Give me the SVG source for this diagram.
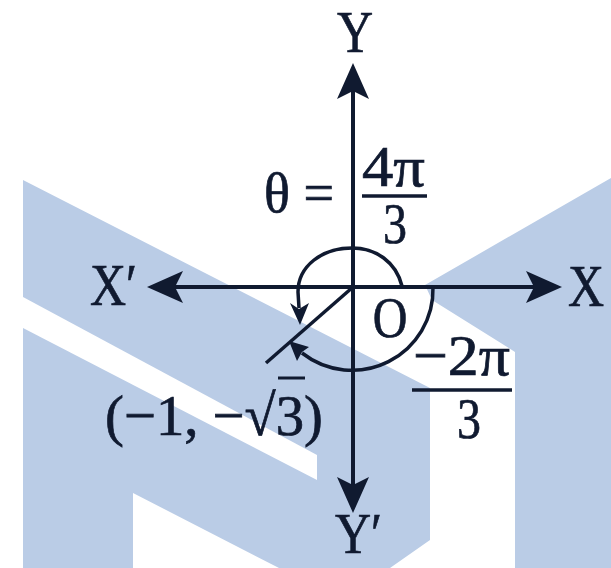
<svg xmlns="http://www.w3.org/2000/svg" width="611" height="568" viewBox="0 0 611 568">
<style>
.wm{fill:#bacce6;stroke:none}
.wh{fill:#ffffff;stroke:none}
.ax{stroke:#101a30;stroke-width:4;fill:none}
.ln{stroke:#101a30;stroke-width:3.5;fill:none}
.ah{fill:#101a30;stroke:none}
.t{font-family:"Liberation Serif","Times New Roman",serif;font-size:48px;fill:#101a30;stroke:#101a30;stroke-width:0.6}
.big{font-size:50px}
</style>
<defs>
<marker id="arr" viewBox="0 0 36 32" refX="26" refY="16" markerWidth="36" markerHeight="32" markerUnits="userSpaceOnUse" orient="auto">
<path d="M0,0 L36,16 L0,32 L8,16 Z" fill="#101a30"/>
</marker>
</defs>
<rect x="0" y="0" width="611" height="568" fill="#ffffff"/>
<g id="watermark">
<polygon class="wm" points="23,180 430,388 430,540 390,568 279,568 133,493 133,568 23,568"/>
<polygon class="wh" points="23,297 317,455 317,480 23,328"/>
<polygon class="wm" points="425,285 611,178 611,568 515,568 515,352 432,300"/>
</g>
<g id="connectors">
<line class="ax" x1="353" y1="287" x2="353" y2="73" marker-end="url(#arr)"/>
<line class="ax" x1="353" y1="287" x2="353" y2="503" marker-end="url(#arr)"/>
<line class="ax" x1="353" y1="287" x2="157" y2="287" marker-end="url(#arr)"/>
<line class="ax" x1="353" y1="287" x2="552" y2="287" marker-end="url(#arr)"/>
<line class="ln" x1="353" y1="287" x2="266" y2="363"/>
<path class="ln" d="M402,286 C396,262 376,248 352,248 C322,248 298,266 298,292 L299,308"/>
<polygon class="ah" points="300,325 290,303 299,309 309,303"/>
<path class="ln" d="M433,287 A81,81 0 0 1 302,353"/>
<polygon class="ah" points="289,341 309,347 302,352 297,361"/>
</g>
<g id="label-Y"><text class="t big" transform="translate(355,52) scale(1,1.2)" text-anchor="middle">Y</text></g>
<g id="label-Yp"><text class="t big" transform="translate(335,553) scale(1,1.15)">Y′</text></g>
<g id="label-Xp"><text class="t big" transform="translate(90,305) scale(1,1.2)">X′</text></g>
<g id="label-X"><text class="t big" transform="translate(568,306) scale(1,1.2)">X</text></g>
<g id="label-O"><text class="t" transform="translate(390,337) scale(1,1.2)" text-anchor="middle">O</text></g>
<g id="label-theta">
<text class="t" transform="translate(264,212) scale(1,1.2)" textLength="70" lengthAdjust="spacingAndGlyphs">θ =</text>
<text class="t" transform="translate(362,186) scale(1,1.2)" textLength="63" lengthAdjust="spacingAndGlyphs">4π</text>
<line class="ln" x1="362" y1="196" x2="427" y2="196"/>
<text class="t" transform="translate(395,243) scale(1,1.2)" text-anchor="middle">3</text>
</g>
<g id="label-point">
<text class="t" transform="translate(105,435) scale(1,1.2)" textLength="218" lengthAdjust="spacingAndGlyphs">(−1, −√3)</text>
<line class="ln" x1="278" y1="378" x2="305" y2="378" style="stroke-width:3"/>
</g>
<g id="label-neg">
<text class="t" transform="translate(413,375) scale(1,1.2)" textLength="97" lengthAdjust="spacingAndGlyphs">−2π</text>
<line class="ln" x1="412" y1="390" x2="512" y2="390"/>
<text class="t" transform="translate(469,438) scale(1,1.2)" text-anchor="middle">3</text>
</g>
</svg>
